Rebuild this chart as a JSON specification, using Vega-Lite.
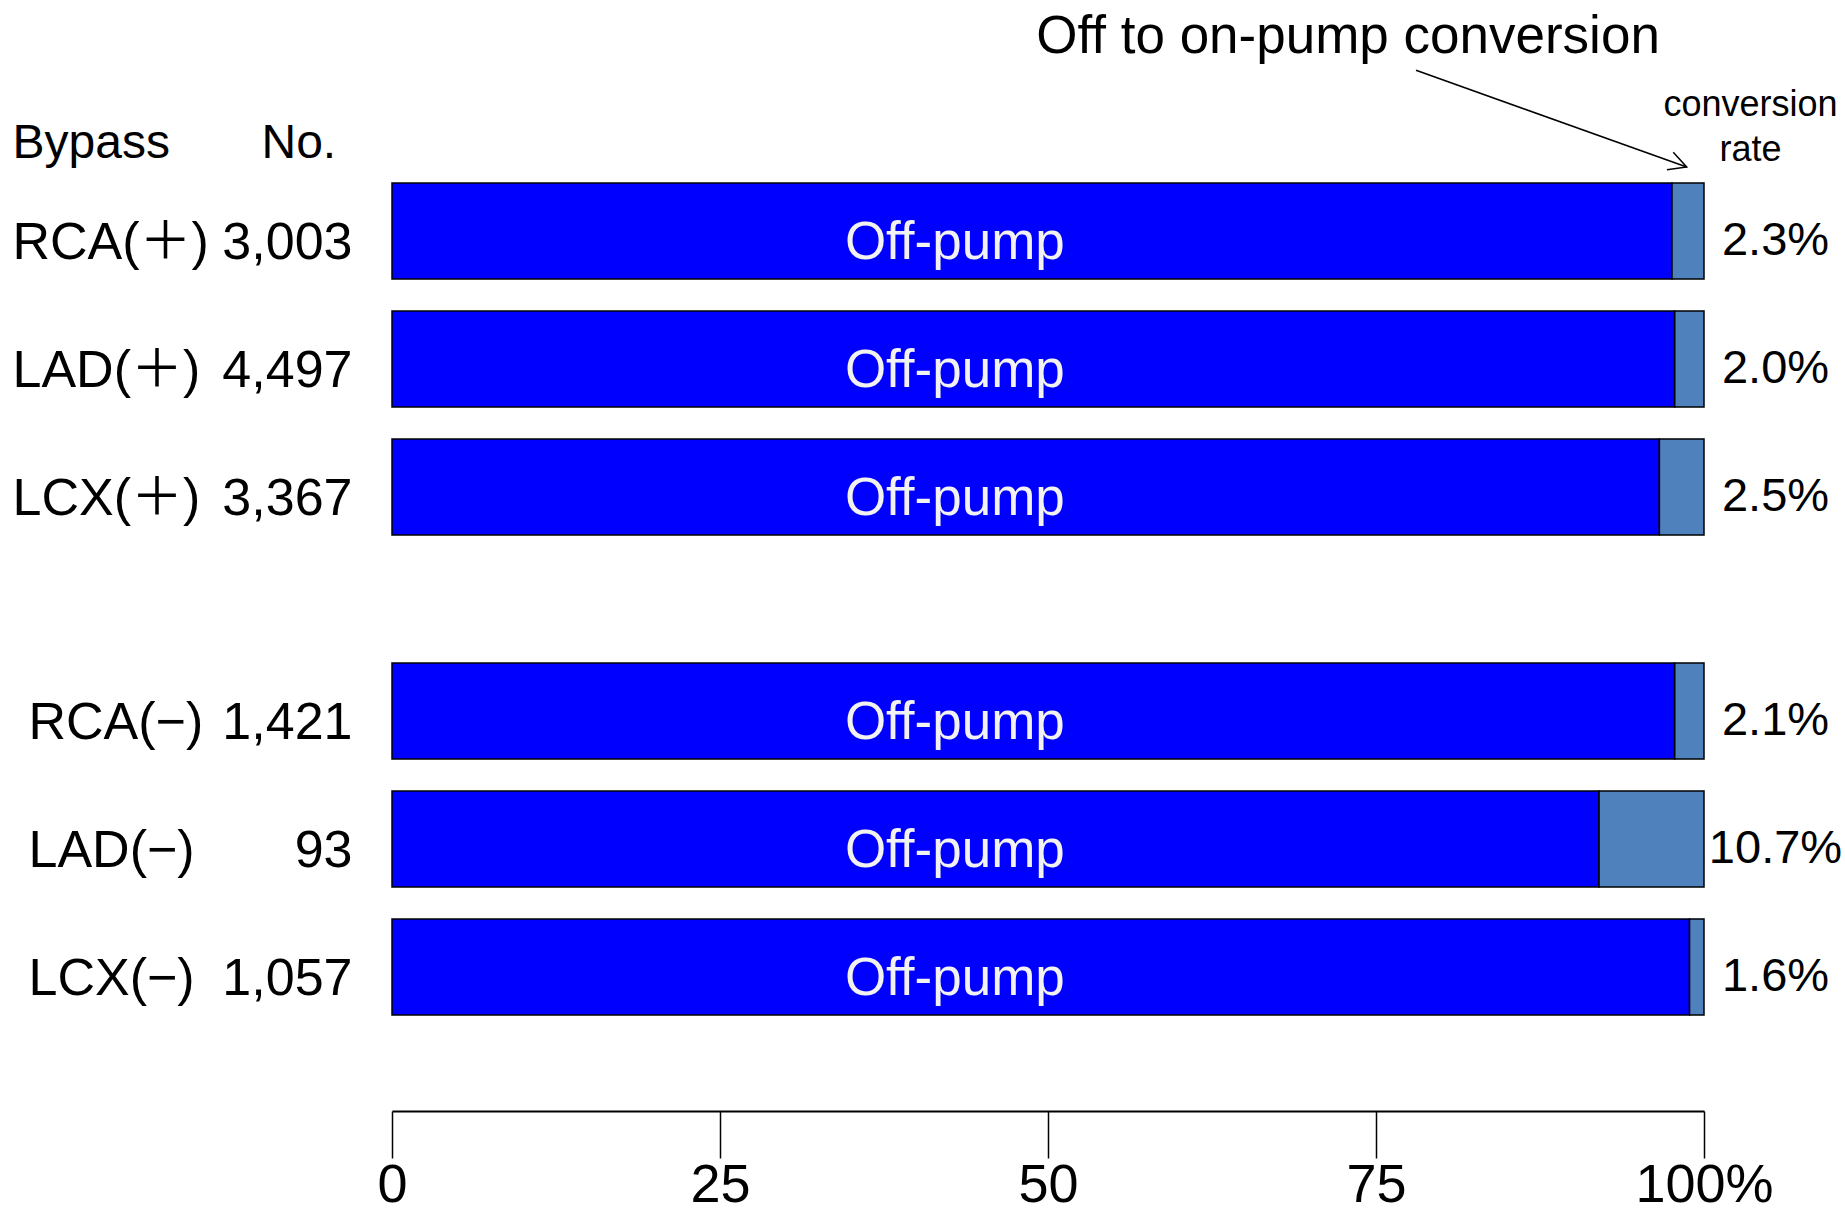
{
  "$schema": "https://vega.github.io/schema/vega-lite/v6.json",
  "background": "white",
  "padding": {"left": 12, "top": 10, "right": 0, "bottom": 0},
  "config": {
    "font": "Liberation Sans, 'Noto Sans CJK JP', sans-serif",
    "view": {"stroke": null},
    "axis": {"grid": false, "labelColor": "black", "titleColor": "black", "titleFontWeight": "normal", "labelLimit": 600}
  },
  "datasets": {
    "pos": [
      {"bypass": "RCA(＋)", "n": "3,003", "rate": "2.3%", "off_pump": 97.56, "label": "Off-pump"},
      {"bypass": "LAD(＋)", "n": "4,497", "rate": "2.0%", "off_pump": 97.77, "label": "Off-pump"},
      {"bypass": "LCX(＋)", "n": "3,367", "rate": "2.5%", "off_pump": 96.6, "label": "Off-pump"}
    ],
    "neg": [
      {"bypass": "RCA(−)", "n": "1,421", "rate": "2.1%", "off_pump": 97.77, "label": "Off-pump"},
      {"bypass": "LAD(−)", "n": "93", "rate": "10.7%", "off_pump": 92.0, "label": "Off-pump"},
      {"bypass": "LCX(−)", "n": "1,057", "rate": "1.6%", "off_pump": 98.9, "label": "Off-pump"}
    ]
  },
  "spacing": 96,
  "bounds": "flush",
  "vconcat": [
    {
      "width": 1312,
      "height": 384,
      "data": {"name": "pos"},
      "resolve": {"scale": {"y": "independent"}},
      "layer": [
        {
          "mark": {"type": "bar", "color": "#0000FF", "stroke": "black", "strokeWidth": 1.5},
          "encoding": {
            "x": {"field": "off_pump", "type": "quantitative", "scale": {"domain": [0, 100], "nice": false}, "axis": null},
            "y": {"field": "bypass", "type": "nominal", "sort": null,
              "scale": {"paddingInner": 0.25, "paddingOuter": 0.125},
              "axis": {"orient": "left", "domain": false, "ticks": false, "tickSize": 0, "labelAlign": "left", "labelPadding": 380, "labelFontSize": 52, "labelBaseline": "alphabetic", "labelOffset": 27.5, "labelLimit": 600,
                "title": "Bypass", "titleAngle": 0, "titleAlign": "left", "titleBaseline": "alphabetic", "titleX": -380, "titleY": -9.5, "titleFontSize": 48}}
          }
        },
        {
          "mark": {"type": "bar", "color": "#4F81BD", "stroke": "black", "strokeWidth": 1.5},
          "encoding": {
            "x": {"field": "off_pump", "type": "quantitative", "axis": null},
            "x2": {"datum": 100},
            "y": {"field": "rate", "type": "nominal", "sort": null,
              "scale": {"paddingInner": 0.25, "paddingOuter": 0.125},
              "axis": {"orient": "right", "domain": false, "ticks": false, "tickSize": 0, "labelAlign": "center", "labelPadding": 71, "labelFontSize": 47, "labelBaseline": "alphabetic", "labelOffset": 24,
                "title": ["conversion", "rate"], "titleAngle": 0, "titleAlign": "center", "titleBaseline": "alphabetic", "titleX": 46, "titleY": -51.5, "titleFontSize": 36, "titleLineHeight": 45}}
          }
        },
        {
          "mark": {"type": "text", "color": "#F2F2F2", "fontSize": 53, "baseline": "alphabetic", "dy": 28, "align": "center"},
          "encoding": {
            "x": {"datum": 42.9, "axis": null},
            "y": {"field": "n", "type": "nominal", "sort": null,
              "scale": {"paddingInner": 0.25, "paddingOuter": 0.125},
              "axis": {"orient": "left", "domain": false, "ticks": false, "tickSize": 0, "labelAlign": "right", "labelPadding": 40, "labelFontSize": 52, "labelBaseline": "alphabetic", "labelOffset": 27.5,
                "title": "No.", "titleAngle": 0, "titleAlign": "left", "titleBaseline": "alphabetic", "titleX": -131, "titleY": -9.5, "titleFontSize": 48}},
            "text": {"field": "label"}
          }
        },
        {
          "data": {"values": [{"t": "Off to on-pump conversion"}]},
          "mark": {"type": "text", "fontSize": 53, "align": "center", "baseline": "alphabetic", "color": "black"},
          "encoding": {
            "x": {"datum": 72.87, "axis": null},
            "y": {"datum": 1.297, "type": "quantitative", "scale": {"domain": [0, 1], "nice": false, "zero": false}, "axis": null},
            "text": {"field": "t"}
          }
        },
        {
          "data": {"values": [{}]},
          "mark": {"type": "rule", "color": "black", "strokeWidth": 1.5},
          "encoding": {
            "x": {"datum": 78.05, "axis": null},
            "x2": {"datum": 98.68},
            "y": {"datum": 1.2518, "type": "quantitative", "scale": {"domain": [0, 1], "nice": false, "zero": false}, "axis": null},
            "y2": {"datum": 1.0}
          }
        },
        {
          "data": {"values": [{}]},
          "mark": {"type": "point", "shape": "M -1 -0.53 L 0 0 L -1 0.53", "filled": false, "stroke": "black", "strokeWidth": 1.5, "size": 1240, "angle": 19.7, "opacity": 1},
          "encoding": {
            "x": {"datum": 98.68, "axis": null},
            "y": {"datum": 1.0, "type": "quantitative", "scale": {"domain": [0, 1], "nice": false, "zero": false}, "axis": null}
          }
        }
      ]
    },
    {
      "width": 1312,
      "height": 384,
      "data": {"name": "neg"},
      "resolve": {"scale": {"y": "independent"}},
      "layer": [
        {
          "mark": {"type": "bar", "color": "#0000FF", "stroke": "black", "strokeWidth": 1.5},
          "encoding": {
            "x": {"field": "off_pump", "type": "quantitative", "scale": {"domain": [0, 100], "nice": false},
              "axis": {"orient": "bottom", "offset": 80, "values": [0, 25, 50, 75, 100], "tickSize": 47, "tickWidth": 1.5, "tickColor": "black", "domainColor": "black", "domainWidth": 2, "labelFontSize": 54, "labelPadding": 0, "labelFlush": false, "labelExpr": "datum.value == 100 ? '100%' : datum.label", "title": null, "grid": false}},
            "y": {"field": "bypass", "type": "nominal", "sort": null,
              "scale": {"paddingInner": 0.25, "paddingOuter": 0.125},
              "axis": {"orient": "left", "domain": false, "ticks": false, "tickSize": 0, "labelAlign": "left", "labelPadding": 364, "labelFontSize": 52, "labelBaseline": "alphabetic", "labelOffset": 27.5, "title": null}}
          }
        },
        {
          "mark": {"type": "bar", "color": "#4F81BD", "stroke": "black", "strokeWidth": 1.5},
          "encoding": {
            "x": {"field": "off_pump", "type": "quantitative",
              "axis": {"orient": "bottom", "offset": 80, "values": [0, 25, 50, 75, 100], "tickSize": 47, "tickWidth": 1.5, "tickColor": "black", "domainColor": "black", "domainWidth": 2, "labelFontSize": 54, "labelPadding": 0, "labelFlush": false, "labelExpr": "datum.value == 100 ? '100%' : datum.label", "title": null, "grid": false}},
            "x2": {"datum": 100},
            "y": {"field": "rate", "type": "nominal", "sort": null,
              "scale": {"paddingInner": 0.25, "paddingOuter": 0.125},
              "axis": {"orient": "right", "domain": false, "ticks": false, "tickSize": 0, "labelAlign": "center", "labelPadding": 71, "labelFontSize": 47, "labelBaseline": "alphabetic", "labelOffset": 24, "title": null}}
          }
        },
        {
          "mark": {"type": "text", "color": "#F2F2F2", "fontSize": 53, "baseline": "alphabetic", "dy": 28, "align": "center"},
          "encoding": {
            "x": {"datum": 42.9,
              "axis": {"orient": "bottom", "offset": 80, "values": [0, 25, 50, 75, 100], "tickSize": 47, "tickWidth": 1.5, "tickColor": "black", "domainColor": "black", "domainWidth": 2, "labelFontSize": 54, "labelPadding": 0, "labelFlush": false, "labelExpr": "datum.value == 100 ? '100%' : datum.label", "title": null, "grid": false}},
            "y": {"field": "n", "type": "nominal", "sort": null,
              "scale": {"paddingInner": 0.25, "paddingOuter": 0.125},
              "axis": {"orient": "left", "domain": false, "ticks": false, "tickSize": 0, "labelAlign": "right", "labelPadding": 40, "labelFontSize": 52, "labelBaseline": "alphabetic", "labelOffset": 27.5, "title": null}},
            "text": {"field": "label"}
          }
        }
      ]
    }
  ]
}
